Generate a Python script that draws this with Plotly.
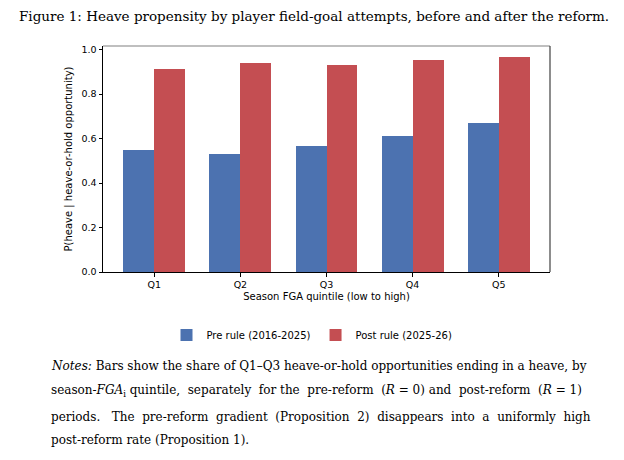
import plotly.graph_objects as go

# Values
quintiles = ["Q1", "Q2", "Q3", "Q4", "Q5"]
pre_rule = [0.547, 0.529, 0.565, 0.610, 0.669]
post_rule = [0.913, 0.940, 0.931, 0.953, 0.967]
y_ticks = [0.0, 0.2, 0.4, 0.6, 0.8, 1.0]

title_text = "Figure 1: Heave propensity by player field-goal attempts, before and after the reform."
notes_lines = [
    "<i>Notes:</i> Bars show the share of Q1–Q3 heave-or-hold opportunities ending in a heave, by",
    "season-<i>FGA</i><sub>i</sub> quintile, separately for the pre-reform (<i>R</i>&nbsp;=&nbsp;0) and post-reform (<i>R</i>&nbsp;=&nbsp;1)",
    "periods.  The pre-reform gradient (Proposition 2) disappears into a uniformly high",
    "post-reform rate (Proposition 1).",
]
# extra word spacing per line to mimic the justified paragraph
notes_pad = [0, 0.7, 0.95, 0]

SANS = "DejaVu Sans"
SERIF = "DejaVu Serif"
BLUE = "#4C72B0"
RED = "#C44E52"

# the page has an 8px body margin, so work in page pixels minus 8
OFF = 8
W, H = 624 - 2 * OFF, 460 - 2 * OFF
X0, X1, Y0, Y1 = 103 - OFF, 550 - OFF, 46 - OFF, 272 - OFF


def py(p):
    # page pixel row -> paper y
    return (Y1 - (p - OFF)) / (Y1 - Y0)


def px(p):
    return ((p - OFF) - X0) / (X1 - X0)


def spread(line, pad):
    # add non-breaking spaces to a share of the gaps between words
    if pad == 0:
        return line
    words = line.split(" ")
    out = words[0]
    acc = 0.0
    for w in words[1:]:
        acc += pad
        extra = ""
        if acc >= 1 and w != "":
            extra = "&nbsp;"
            acc -= 1
        out += " " + extra + w
    return out


x_pos = list(range(len(quintiles)))
bar_w = 0.36

fig = go.Figure()
fig.add_trace(
    go.Bar(
        x=[i - bar_w / 2 for i in x_pos],
        y=pre_rule,
        width=bar_w,
        name="Pre rule (2016-2025)",
        marker=dict(color=BLUE, line=dict(width=0)),
    )
)
fig.add_trace(
    go.Bar(
        x=[i + bar_w / 2 for i in x_pos],
        y=post_rule,
        width=bar_w,
        name="Post rule (2025-26)",
        marker=dict(color=RED, line=dict(width=0)),
    )
)

fig.update_xaxes(
    range=[-0.596, 4.596],
    tickvals=x_pos,
    ticktext=quintiles,
    ticks="outside",
    ticklen=3.5,
    tickcolor="black",
    showline=True,
    linecolor="black",
    linewidth=1,
    showgrid=False,
    zeroline=False,
    tickfont=dict(family=SANS, size=9.5, color="black"),
    title=dict(text="Season FGA quintile (low to high)", font=dict(family=SANS, size=10, color="black"), standoff=4),
)
fig.update_yaxes(
    range=[0, 1.016],
    tickvals=y_ticks,
    ticktext=[f"{v:.1f}" for v in y_ticks],
    ticks="outside",
    ticklen=3.5,
    tickcolor="black",
    showline=True,
    linecolor="black",
    linewidth=1,
    showgrid=False,
    zeroline=False,
    tickfont=dict(family=SANS, size=9.5, color="black"),
    title=dict(text="P(heave | heave-or-hold opportunity)", font=dict(family=SANS, size=10, color="black"), standoff=6),
)

# top and right spines are drawn lighter in the reference
fig.add_shape(type="line", xref="paper", yref="paper", x0=0, x1=1, y0=1, y1=1,
              line=dict(color="#808080", width=1.2))
fig.add_shape(type="line", xref="paper", yref="paper", x0=1, x1=1, y0=0, y1=1,
              line=dict(color="#404040", width=1.2))

annotations = [
    dict(text=title_text, x=px(314), y=py(16), xref="paper", yref="paper",
         xanchor="center", yanchor="middle", showarrow=False,
         font=dict(family=SERIF, size=13.5, color="black")),
]
note_rows = [366, 391, 417, 440]
for line, pad, row in zip(notes_lines, notes_pad, note_rows):
    annotations.append(
        dict(text=spread(line, pad), x=px(49), y=py(row), xref="paper", yref="paper",
             xanchor="left", yanchor="middle", showarrow=False,
             font=dict(family=SERIF, size=12, color="black"))
    )

fig.update_layout(
    width=W,
    height=H,
    margin=dict(l=X0, r=W - X1, t=Y0, b=H - Y1, pad=0),
    paper_bgcolor="white",
    plot_bgcolor="white",
    barmode="overlay",
    bargap=0,
    showlegend=True,
    legend=dict(
        orientation="h",
        x=px(312),
        xanchor="center",
        y=py(335),
        yanchor="middle",
        font=dict(family=SANS, size=10, color="black"),
        itemwidth=30,
        bgcolor="rgba(0,0,0,0)",
    ),
    annotations=annotations,
)

fig.write_html("out.html")
